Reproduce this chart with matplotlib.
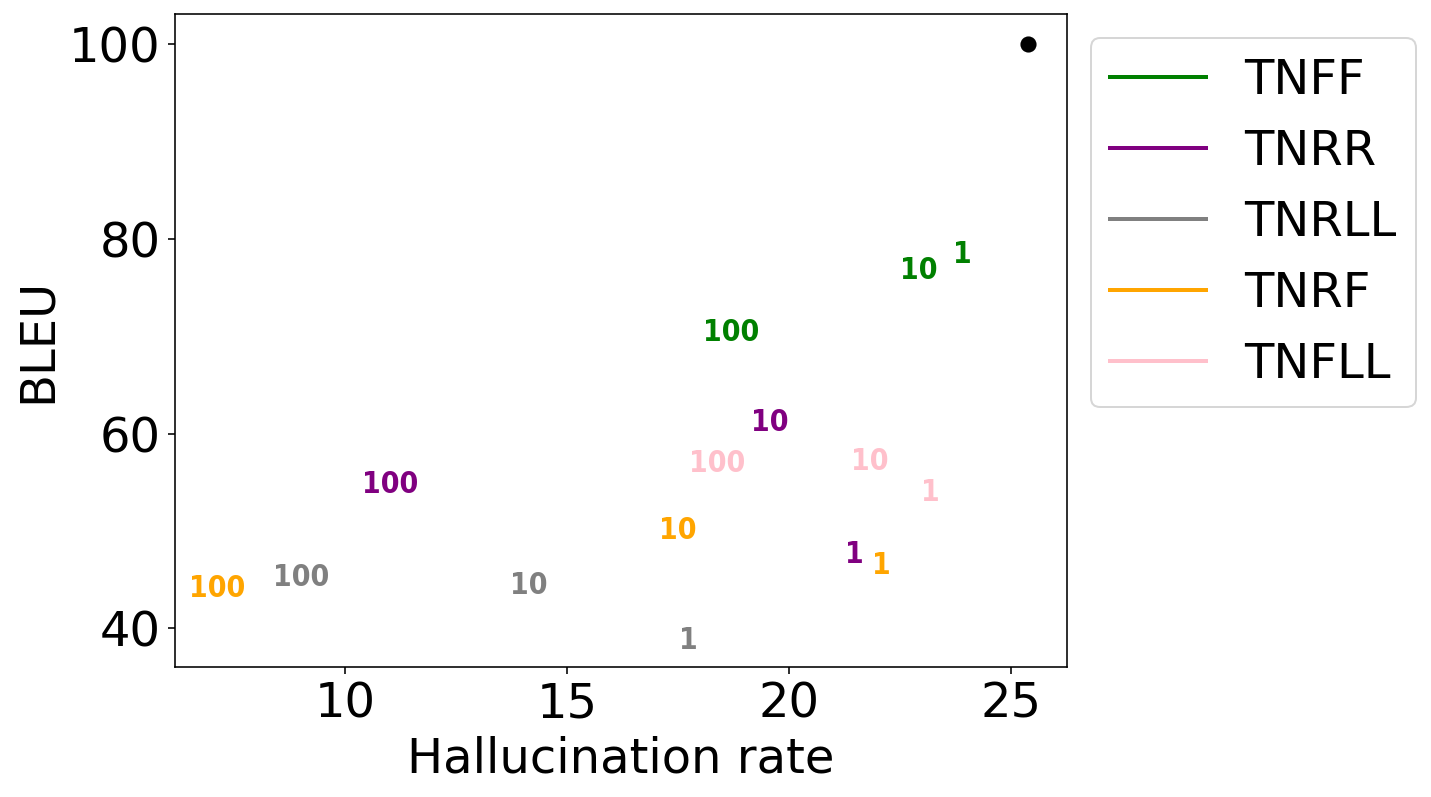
import matplotlib
matplotlib.use("Agg")
import matplotlib.pyplot as plt

# Hallucination rate / BLEU for each model, labelled by the value 1, 10, 100
models = ["TNFF", "TNRR", "TNRLL", "TNRF", "TNFLL"]
colors = ["green", "purple", "gray", "orange", "pink"]
point_labels = ["1", "10", "100"]

tnff_x = [23.91, 22.94, 18.71]
tnff_y = [77.50, 75.86, 69.49]
tnrr_x = [21.47, 19.58, 11.01]
tnrr_y = [46.68, 60.24, 53.87]
tnrll_x = [17.73, 14.14, 9.02]
tnrll_y = [37.84, 43.49, 44.31]
tnrf_x = [22.08, 17.49, 7.11]
tnrf_y = [45.55, 49.14, 43.18]
tnfll_x = [23.19, 21.83, 18.38]
tnfll_y = [53.04, 56.23, 56.03]

# reference point
ref_x = [25.40]
ref_y = [100]

all_x = [tnff_x, tnrr_x, tnrll_x, tnrf_x, tnfll_x]
all_y = [tnff_y, tnrr_y, tnrll_y, tnrf_y, tnfll_y]

dpi = 144
fig = plt.figure(figsize=(1431 / dpi, 797 / dpi), dpi=dpi)
ax = fig.add_axes([0.1220, 0.1637, 0.6233, 0.8187])

ax.scatter(ref_x, ref_y, color="black", s=50, zorder=3)

for name, color, xs, ys in zip(models, colors, all_x, all_y):
    # empty line only for the legend entry
    ax.plot([], [], color=color, linewidth=2, label=name)
    for lab, x, y in zip(point_labels, xs, ys):
        ax.text(x, y, lab, color=color, fontsize=15, fontweight="bold",
                fontstretch="condensed", ha="center", va="baseline")

ax.set_xlim(6.16, 26.26)
ax.set_ylim(36.09, 103.08)
ax.set_xticks([10, 15, 20, 25])
ax.set_yticks([40, 60, 80, 100])
ax.tick_params(labelsize=24)
ax.set_xlabel("Hallucination rate", fontsize=24)
ax.set_ylabel("BLEU", fontsize=24)
ax.legend(bbox_to_anchor=(1, 1), loc="upper left", fontsize=24)

fig.savefig("out.png", dpi=dpi)
